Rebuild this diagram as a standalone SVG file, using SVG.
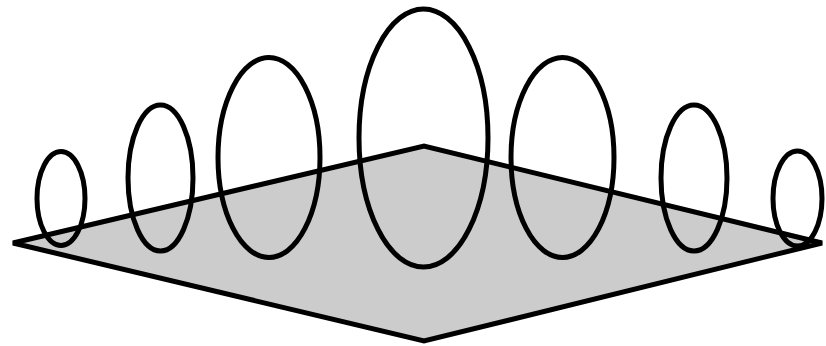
<svg xmlns="http://www.w3.org/2000/svg" width="826" height="346" viewBox="0 0 826 346">
<style>
.plane{fill:#cccccc;stroke:#000;stroke-width:5;stroke-linejoin:miter}
.ring{fill:none;stroke:#000;stroke-width:5}
</style>
<rect width="826" height="346" fill="#fff"/>
<g id="plane">
<polygon class="plane" points="13,243 424,146 822,243 424,341"/>
</g>
<g id="rings">
<ellipse id="ring1" class="ring" cx="61" cy="198.5" rx="24" ry="47"/>
<ellipse id="ring2" class="ring" cx="160.5" cy="178" rx="32.5" ry="73"/>
<ellipse id="ring3" class="ring" cx="269" cy="157.5" rx="51" ry="100"/>
<ellipse id="ring4" class="ring" cx="423.5" cy="138" rx="64.5" ry="129"/>
<ellipse id="ring5" class="ring" cx="562.5" cy="157.5" rx="51.5" ry="100"/>
<ellipse id="ring6" class="ring" cx="694" cy="178" rx="33" ry="73"/>
<ellipse id="ring7" class="ring" cx="797.5" cy="198.5" rx="24.5" ry="47.5"/>
</g>
</svg>
